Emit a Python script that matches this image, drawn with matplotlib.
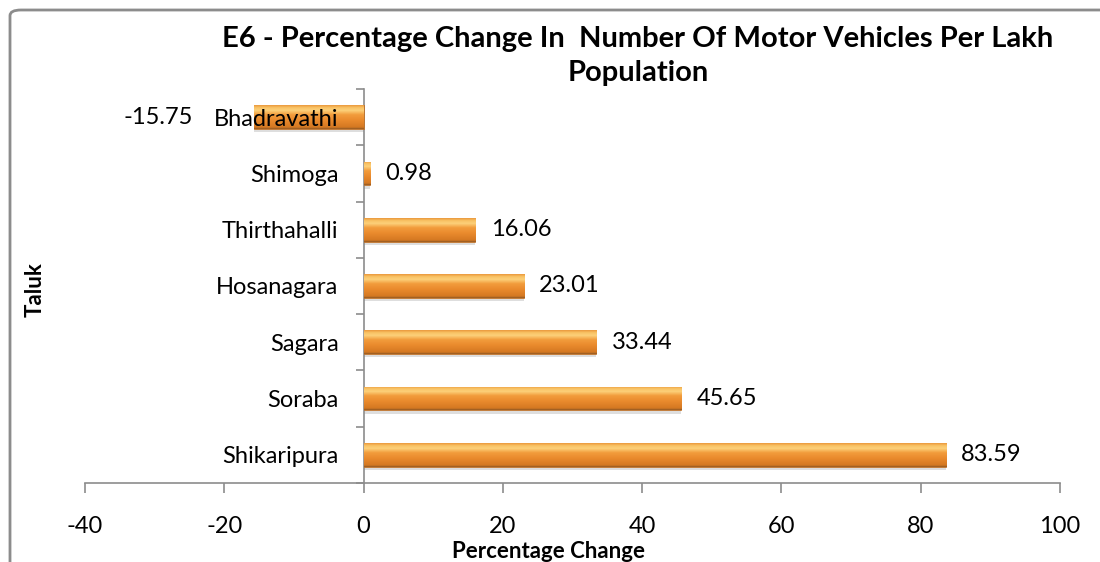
import matplotlib
matplotlib.use("Agg")
import matplotlib.pyplot as plt
import numpy as np
from matplotlib.colors import LinearSegmentedColormap
from matplotlib.patches import FancyBboxPatch

plt.rcParams['font.family'] = ['Lato', 'DejaVu Sans']

# data (top to bottom in the picture)
taluks = ["Bhadravathi", "Shimoga", "Thirthahalli", "Hosanagara",
          "Sagara", "Soraba", "Shikaripura"]
pct_change = [-15.75, 0.98, 16.06, 23.01, 33.44, 45.65, 83.59]
x_ticks = [-40, -20, 0, 20, 40, 60, 80, 100]

W, H = 1100, 562
fig = plt.figure(figsize=(W / 100, H / 100), dpi=100)
# plot area in pixels: x 85..1060, y 89..483
ax = fig.add_axes([85 / W, 1 - 483 / H, 975 / W, 394 / H])

# outer chart border
fig.patches.append(FancyBboxPatch((10 / W, -0.05), 1.2, 1 - 10 / H + 0.05,
                                  boxstyle="round,pad=0,rounding_size=0.01",
                                  transform=fig.transFigure, fill=False,
                                  edgecolor="#8c8c8c", linewidth=2))

# axes lines first (moving a spine resets the ticks)
for s in ["top", "right"]:
    ax.spines[s].set_visible(False)
ax.spines["left"].set_position(("data", 0))
for s in ["left", "bottom"]:
    ax.spines[s].set_color("#8c8c8c")
    ax.spines[s].set_linewidth(1.2)
    ax.spines[s].set_zorder(1.5)

ypos = np.arange(len(taluks))[::-1]
bar_h = 0.42

# gradient like the bevelled Excel bars (bottom -> top)
grad = LinearSegmentedColormap.from_list("bar", [
    (0.0, "#955a22"), (0.07, "#d47822"), (0.35, "#e9892c"),
    (0.6, "#f29c3c"), (0.78, "#fcd07a"), (0.9, "#f9c264"), (1.0, "#eb9a3e")])
g = np.linspace(0, 1, 64).reshape(-1, 1)

bars = ax.barh(ypos, pct_change, height=bar_h, color="#ee9a38",
               edgecolor="#b5661f", linewidth=0.5, zorder=2)
for b in bars:
    x0, y0, w, h = b.get_x(), b.get_y(), b.get_width(), b.get_height()
    # soft shadow
    ax.barh(y0 + h / 2 - 0.06, w, height=h, left=x0, color="#000000",
            alpha=0.13, zorder=1, linewidth=0)
    im = ax.imshow(g, cmap=grad, aspect="auto", origin="lower",
                   extent=[min(x0, x0 + w), max(x0, x0 + w), y0, y0 + h],
                   zorder=3)
    im.set_clip_path(b)

for y, v in zip(ypos, pct_change):
    if v >= 0:
        ax.annotate(f"{v:.2f}", (v, y), xytext=(11, 0), textcoords="offset points",
                    ha="left", va="center", fontsize=17, color="#000000")
    else:
        ax.annotate(f"{v:.2f}", (v, y), xytext=(-44, 0), textcoords="offset points",
                    ha="right", va="center", fontsize=17, color="#000000")

ax.set_xlim(-40, 100)
ax.set_ylim(-0.5, len(taluks) - 0.5)
ax.set_xticks(x_ticks)
ax.set_xticklabels([str(t) for t in x_ticks], fontsize=17)
ax.tick_params(axis="x", direction="out", length=7, width=1.2, color="#8c8c8c", pad=17)

ax.set_yticks(ypos)
ax.set_yticklabels(taluks, fontsize=17)
ax.set_yticks(np.arange(-0.5, len(taluks), 1), minor=True)
ax.tick_params(axis="y", which="major", length=0, pad=18)
ax.tick_params(axis="y", which="minor", direction="out", length=6, width=1.2, color="#8c8c8c")
ax.yaxis.set_zorder(5)

ax.set_xlabel("Percentage Change", fontsize=16, fontweight="bold")
ax.xaxis.set_label_coords((548 - 85) / 975, -(551 - 483) / 394)
ax.xaxis.label.set_va("center")
ax.set_ylabel("Taluk", fontsize=16, fontweight="bold")
ax.yaxis.set_label_coords((35 - 85) / 975, (483 - 290) / 394)
ax.yaxis.label.set_va("center")

fig.text(638 / W, 1 - 56 / H, "E6 - Percentage Change In  Number Of Motor Vehicles Per Lakh\nPopulation",
         ha="center", va="center", fontsize=21, fontweight="bold", linespacing=1.38)

fig.savefig("out.png", dpi=100)
